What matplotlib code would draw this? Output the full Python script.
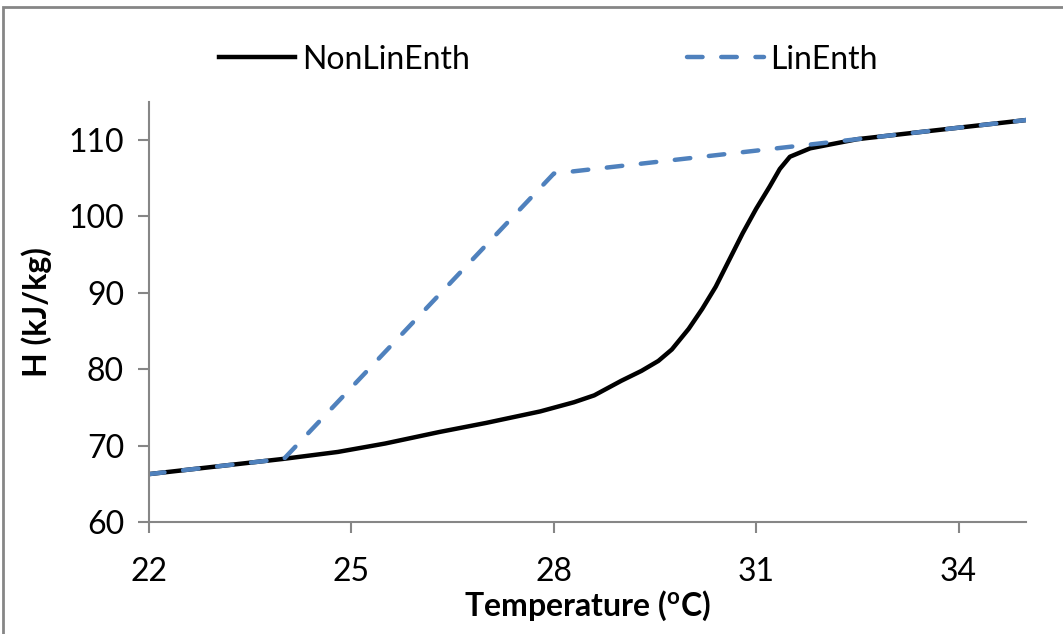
import matplotlib
matplotlib.use('Agg')
import matplotlib.pyplot as plt
from matplotlib.patches import Rectangle

plt.rcParams['font.family'] = ['Lato', 'DejaVu Sans']
plt.rcParams['mathtext.fontset'] = 'custom'
plt.rcParams['mathtext.bf'] = 'Lato:bold'
plt.rcParams['mathtext.rm'] = 'Lato'

# non-linear enthalpy curve
t_nonlin = [22, 23, 24, 24.8, 25.5, 26.3, 27, 27.8, 28.3, 28.6, 29.0, 29.3, 29.55,
            29.75, 30.0, 30.2, 30.4, 30.6, 30.8, 31.0, 31.2, 31.35, 31.5, 31.8,
            32.5, 33.5, 35]
h_nonlin = [66.3, 67.3, 68.3, 69.2, 70.3, 71.8, 73.0, 74.5, 75.7, 76.6, 78.5, 79.8, 81.1,
            82.6, 85.3, 87.9, 90.8, 94.3, 97.8, 101.0, 103.9, 106.2, 107.8, 108.9,
            110.1, 111.1, 112.6]

# linear enthalpy approximation
t_lin = [22, 24, 28, 35]
h_lin = [66.3, 68.3, 105.6, 112.6]

x_ticks = [22, 25, 28, 31, 34]
y_ticks = [60, 70, 80, 90, 100, 110]

grey = '#868686'
fs = 23

fig = plt.figure(figsize=(10.63, 6.34), dpi=100)
ax = fig.add_axes([0.1402, 0.1762, 0.8250, 0.6634])

ax.plot(t_nonlin, h_nonlin, color='black', lw=3.2, label='NonLinEnth', solid_joinstyle='round')
ax.plot(t_lin, h_lin, color='#4F81BD', lw=3.2, dashes=(3.5, 4.2), dash_capstyle='round',
        label='LinEnth')

ax.set_xlim(22, 35)
ax.set_ylim(60, 115)
ax.set_xticks(x_ticks)
ax.set_yticks(y_ticks)
ax.tick_params(axis='both', direction='out', length=8, width=1.5, color=grey,
               labelsize=fs, labelcolor='black')
ax.tick_params(axis='x', pad=17)
ax.tick_params(axis='y', pad=10)

for side in ['top', 'right']:
    ax.spines[side].set_visible(False)
for side in ['left', 'bottom']:
    ax.spines[side].set_color(grey)
    ax.spines[side].set_linewidth(1.5)

ax.set_xlabel(r'Temperature ($\mathbf{^{o}}$C)', fontsize=fs, fontweight='bold', labelpad=1)
ax.set_ylabel('H (kJ/kg)', fontsize=fs, fontweight='bold', labelpad=12)

ax.legend(loc='center', bbox_to_anchor=(0.455, 1.10), ncol=2, frameon=False, fontsize=fs,
          handlelength=2.4, columnspacing=6.8, handletextpad=0.2)

fig.patches.append(Rectangle((0.003, -0.1), 1.2, 1.089, transform=fig.transFigure,
                             fill=False, edgecolor=grey, lw=2))

fig.savefig('out.png', dpi=100)
